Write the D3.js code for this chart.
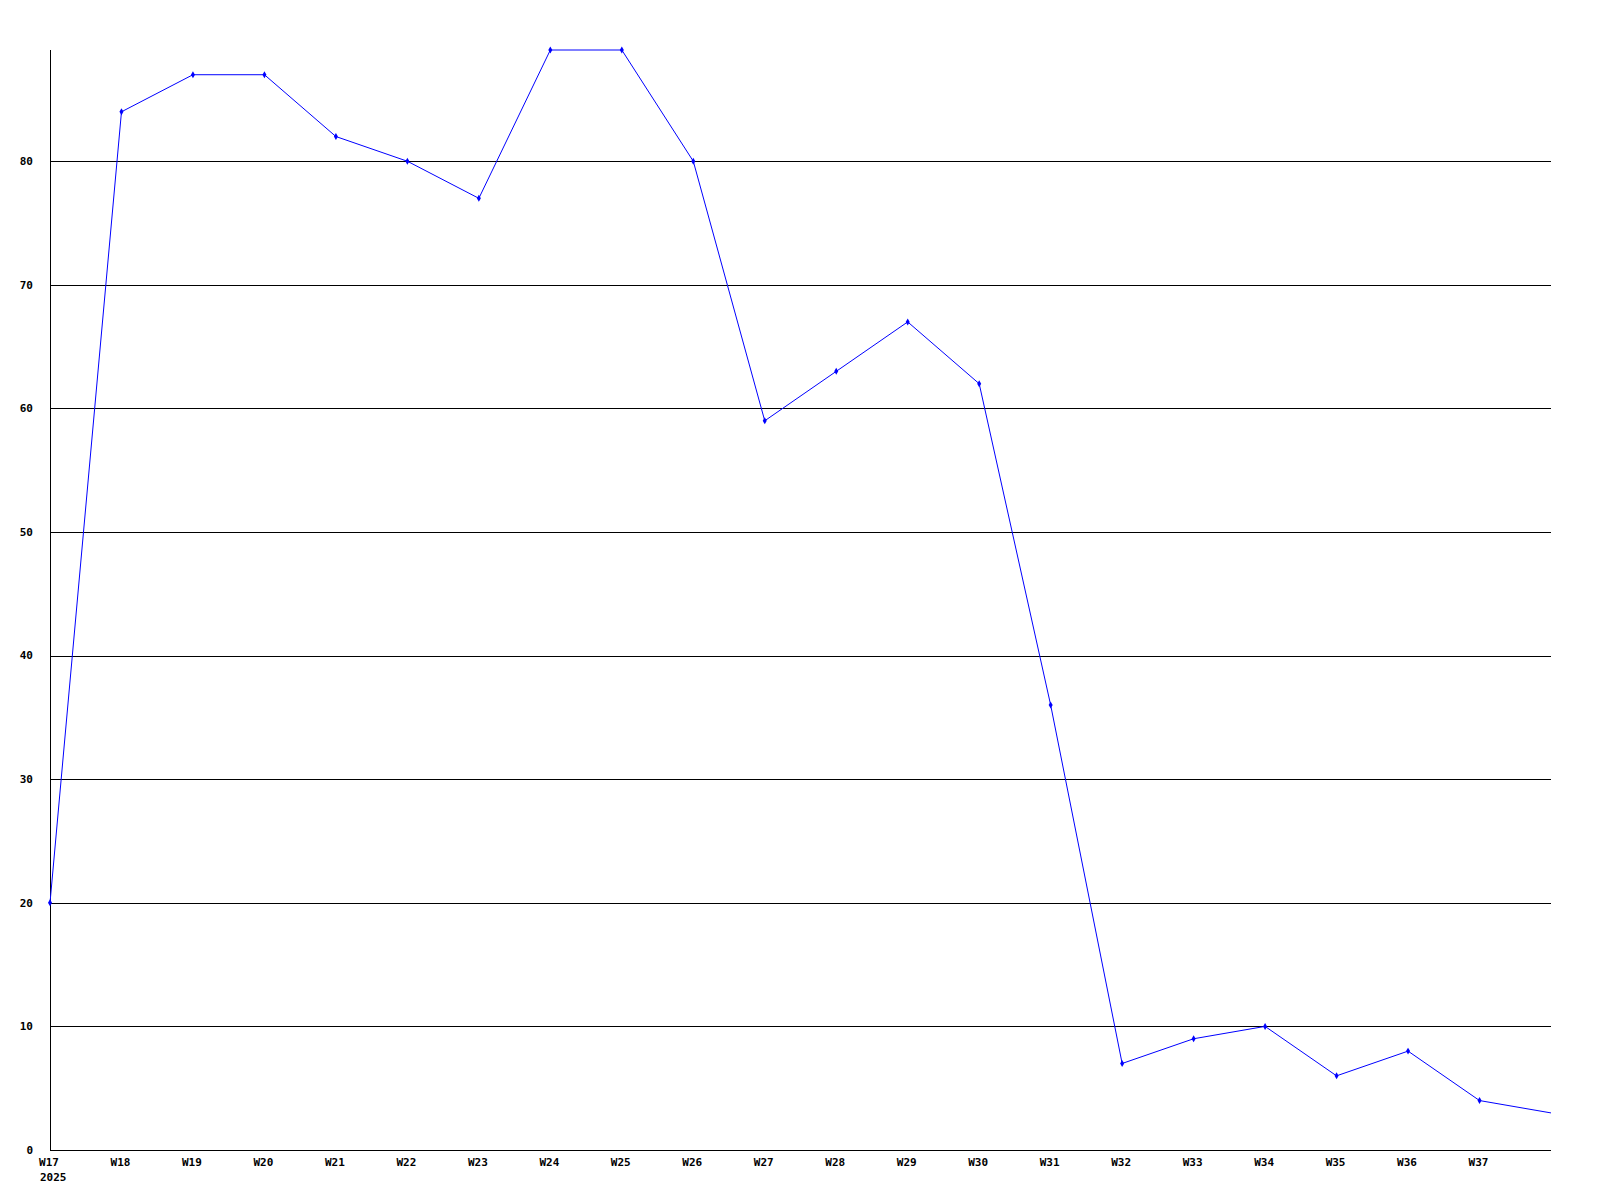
<!DOCTYPE html>
<html>
<head>
<meta charset="utf-8">
<script src="https://cdn.jsdelivr.net/npm/d3@7"></script>
<style>
  body { margin: 0; background: #fff; }
  text { font-family: "DejaVu Sans Mono", monospace; font-weight: bold; font-size: 11px; fill: #000; }
</style>
</head>
<body>
<div id="chart"></div>
<script>
// weekly values, W17 2025 .. W38
var weeks = ["W17", "W18", "W19", "W20", "W21", "W22", "W23", "W24", "W25", "W26", "W27",
  "W28", "W29", "W30", "W31", "W32", "W33", "W34", "W35", "W36", "W37", "W38"];
var values = [20, 84, 87, 87, 82, 80, 77, 89, 89, 80, 59, 63, 67, 62, 36, 7, 9, 10, 6, 8, 4, 3];
var yTicks = [0, 10, 20, 30, 40, 50, 60, 70, 80];
var yearLabel = "2025";

var svgWidth = 1600, svgHeight = 1200;
var margin = { top: 50, right: 49, bottom: 50, left: 50 };
var chartWidth = svgWidth - margin.left - margin.right;
var chartHeight = svgHeight - margin.top - margin.bottom;

var svg = d3.select("#chart").append("svg")
  .attr("width", svgWidth)
  .attr("height", svgHeight);

var chartGroup = svg.append("g")
  .attr("transform", `translate(${margin.left}, ${margin.top})`);

var xScale = d3.scaleLinear()
  .domain([0, weeks.length - 1])
  .range([0, chartWidth]);

var yScale = d3.scaleLinear()
  .domain([0, 89])
  .range([chartHeight, 0]);

// horizontal gridlines
chartGroup.selectAll(".grid")
  .data(yTicks.filter(d => d > 0))
  .enter()
  .append("line")
  .attr("x1", 0)
  .attr("x2", chartWidth)
  .attr("y1", d => Math.round(yScale(d)) + 0.5)
  .attr("y2", d => Math.round(yScale(d)) + 0.5)
  .attr("stroke", "#000")
  .attr("stroke-width", 1);

// y axis labels
chartGroup.selectAll(".ylab")
  .data(yTicks)
  .enter()
  .append("text")
  .attr("x", -17)
  .attr("y", d => yScale(d))
  .attr("dy", "0.35em")
  .style("text-anchor", "end")
  .text(d => d);

// axes lines
chartGroup.append("line")
  .attr("x1", 0.5).attr("x2", 0.5)
  .attr("y1", 0).attr("y2", chartHeight)
  .attr("stroke", "#000");
chartGroup.append("line")
  .attr("x1", 0).attr("x2", chartWidth)
  .attr("y1", chartHeight + 0.5).attr("y2", chartHeight + 0.5)
  .attr("stroke", "#000");

// x labels (last week has no label)
chartGroup.selectAll(".xlab")
  .data(weeks.slice(0, weeks.length - 1))
  .enter()
  .append("text")
  .attr("x", (d, i) => xScale(i) - 1)
  .attr("y", chartHeight + 16)
  .style("text-anchor", "middle")
  .text(d => d);

chartGroup.append("text")
  .attr("x", xScale(0) - 10)
  .attr("y", chartHeight + 31)
  .style("text-anchor", "start")
  .text(yearLabel);

// the line
var line = d3.line()
  .x((d, i) => xScale(i))
  .y(d => yScale(d));

chartGroup.append("path")
  .datum(values)
  .attr("d", line)
  .attr("fill", "none")
  .attr("stroke", "#0000ff")
  .attr("stroke-width", 1);

// small diamond markers (none on the last, clipped point)
chartGroup.selectAll(".pt")
  .data(values.slice(0, values.length - 1))
  .enter()
  .append("path")
  .attr("d", d3.symbol().type(d3.symbolDiamond).size(14))
  .attr("transform", (d, i) => `translate(${xScale(i)}, ${yScale(d)})`)
  .attr("fill", "#0000ff");
</script>
</body>
</html>
